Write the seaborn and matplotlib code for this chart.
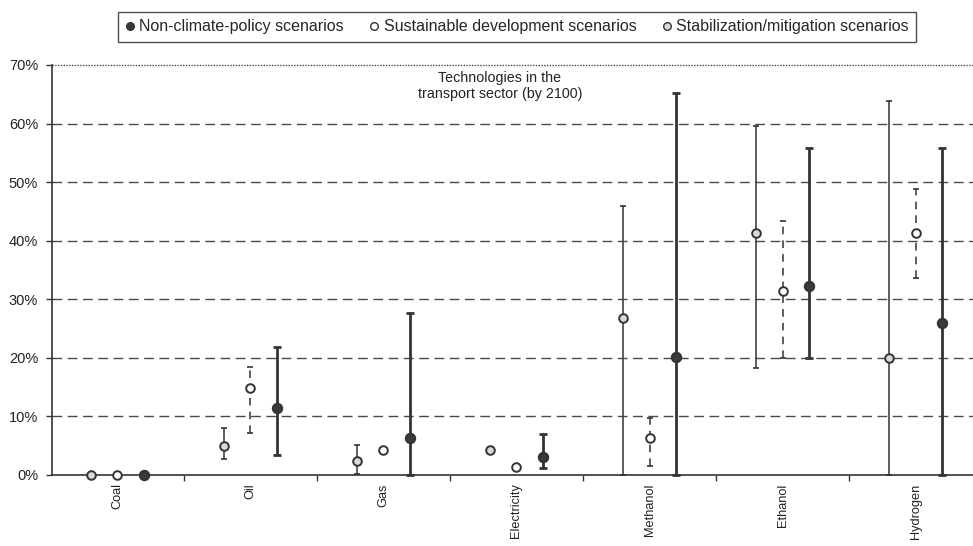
import numpy as np
import pandas as pd
import matplotlib
matplotlib.use("Agg")
import matplotlib.pyplot as plt
from matplotlib.lines import Line2D
import seaborn as sns

categories = ["Coal", "Oil", "Gas", "Electricity", "Methanol", "Ethanol", "Hydrogen"]

# Stabilization/mitigation scenarios (first in each group, thin solid range)
stab_mid = [0.0, 5.0, 2.4, 4.3, 26.8, 41.4, 20.0]
stab_low = [np.nan, 2.7, 0.2, np.nan, 0.0, 18.3, 0.0]
stab_high = [np.nan, 8.0, 5.1, np.nan, 45.9, 59.6, 63.9]

# Sustainable development scenarios (second, dashed range)
sus_mid = [0.0, 14.9, 4.3, 1.3, 6.3, 31.4, 41.4]
sus_low = [np.nan, 7.2, np.nan, np.nan, 1.5, 20.0, 33.6]
sus_high = [np.nan, 18.4, np.nan, np.nan, 9.8, 43.4, 48.9]

# Non-climate-policy scenarios (third, thick solid range)
ncp_mid = [0.0, 11.5, 6.3, 3.1, 20.1, 32.2, 26.0]
ncp_low = [np.nan, 3.4, 0.0, 1.2, 0.0, 20.0, 0.0]
ncp_high = [np.nan, 21.9, 27.7, 7.0, 65.2, 55.9, 55.9]

y_ticks = [0, 10, 20, 30, 40, 50, 60, 70]
y_tick_labels = ["0%", "10%", "20%", "30%", "40%", "50%", "60%", "70%"]

legend_labels = ["Non-climate-policy scenarios",
                 "Sustainable development scenarios",
                 "Stabilization/mitigation scenarios"]

sns.set_theme(style="white")
plt.rcParams["font.family"] = ["Liberation Sans", "DejaVu Sans"]

fig = plt.figure(figsize=(9.73, 5.46), dpi=100)
ax = fig.add_axes([52 / 973, 71 / 546, 1 - 52 / 973, 410 / 546])

series = [
    dict(name="stab", mid=stab_mid, low=stab_low, high=stab_high, off=-0.2,
         face="#d9d9d9", lw=1.1, ls="-", ms=6.2, cap=3),
    dict(name="sus", mid=sus_mid, low=sus_low, high=sus_high, off=0.0,
         face="white", lw=1.1, ls=(0, (5, 4)), ms=6.2, cap=3),
    dict(name="ncp", mid=ncp_mid, low=ncp_low, high=ncp_high, off=0.2,
         face="#3a3a3a", lw=2.0, ls="-", ms=6.8, cap=4),
]

edge = "#333333"
for s in series:
    df = pd.DataFrame({"cat": categories, "mid": s["mid"], "low": s["low"], "high": s["high"]})
    df["x"] = np.arange(len(categories)) + s["off"]
    rng = df.dropna(subset=["low", "high"])
    ax.vlines(rng["x"], rng["low"], rng["high"], colors=edge, linewidth=s["lw"],
              linestyles=[s["ls"]], zorder=2, clip_on=False)
    for yy in ("low", "high"):
        ax.hlines(rng[yy], rng["x"] - s["cap"] / 133.0, rng["x"] + s["cap"] / 133.0,
                  colors=edge, linewidth=max(1.2, s["lw"]), zorder=2, clip_on=False)
    sns.scatterplot(data=df, x="x", y="mid", ax=ax, s=s["ms"] ** 2,
                    color=s["face"], edgecolor=edge, linewidth=1.4, zorder=4,
                    clip_on=False, legend=False)

ax.set_xlim(-0.49, 6.43)
ax.set_ylim(0, 70)

# grid
for t in y_ticks[1:-1]:
    ax.axhline(t, color="#4a4a4a", linewidth=1.0, linestyle=(0, (7, 4)), zorder=1)
ax.axhline(70, color="#4a4a4a", linewidth=1.0, linestyle=(0, (1, 1)), zorder=1, clip_on=False)

for sp in ["top", "right"]:
    ax.spines[sp].set_visible(False)
for sp in ["left", "bottom"]:
    ax.spines[sp].set_color("#333333")
    ax.spines[sp].set_linewidth(1.2)

ax.set_yticks(y_ticks)
ax.set_yticklabels(y_tick_labels, fontsize=10.5, color="#222222")
ax.tick_params(axis="y", length=4, width=1, color="#333333", left=True, pad=6)

ax.set_xticks(np.arange(len(categories)))
ax.set_xticklabels(categories, rotation=90, fontsize=9.2, color="#222222",
                   family=["Liberation Sans Narrow", "Liberation Sans", "DejaVu Sans"])
ax.tick_params(axis="x", length=0, pad=6)
ax.set_xticks(np.arange(len(categories) - 1) + 0.5, minor=True)
ax.tick_params(axis="x", which="minor", length=4, width=1, color="#333333", bottom=True)

ax.set_xlabel("")
ax.set_ylabel("")

fig.text(500 / 973, 1 - 86 / 546, "Technologies in the\ntransport sector (by 2100)",
         ha="center", va="center", fontsize=10.3, color="#222222", linespacing=1.25)

handles = [
    Line2D([], [], marker="o", linestyle="none", markersize=5.5, markerfacecolor="#3a3a3a",
           markeredgecolor=edge, markeredgewidth=1.0),
    Line2D([], [], marker="o", linestyle="none", markersize=5.5, markerfacecolor="white",
           markeredgecolor=edge, markeredgewidth=1.0),
    Line2D([], [], marker="o", linestyle="none", markersize=5.5, markerfacecolor="#d9d9d9",
           markeredgecolor=edge, markeredgewidth=1.0),
]
leg = fig.legend(handles, legend_labels, loc="center", bbox_to_anchor=(517 / 973, 1 - 27 / 546),
                 ncol=3, frameon=True, fancybox=False, fontsize=11.5, handlelength=0.6,
                 handletextpad=0.3, columnspacing=1.6, borderpad=0.45)
leg.get_frame().set_edgecolor("#222222")
leg.get_frame().set_linewidth(1.0)

fig.savefig("out.png", dpi=100)
